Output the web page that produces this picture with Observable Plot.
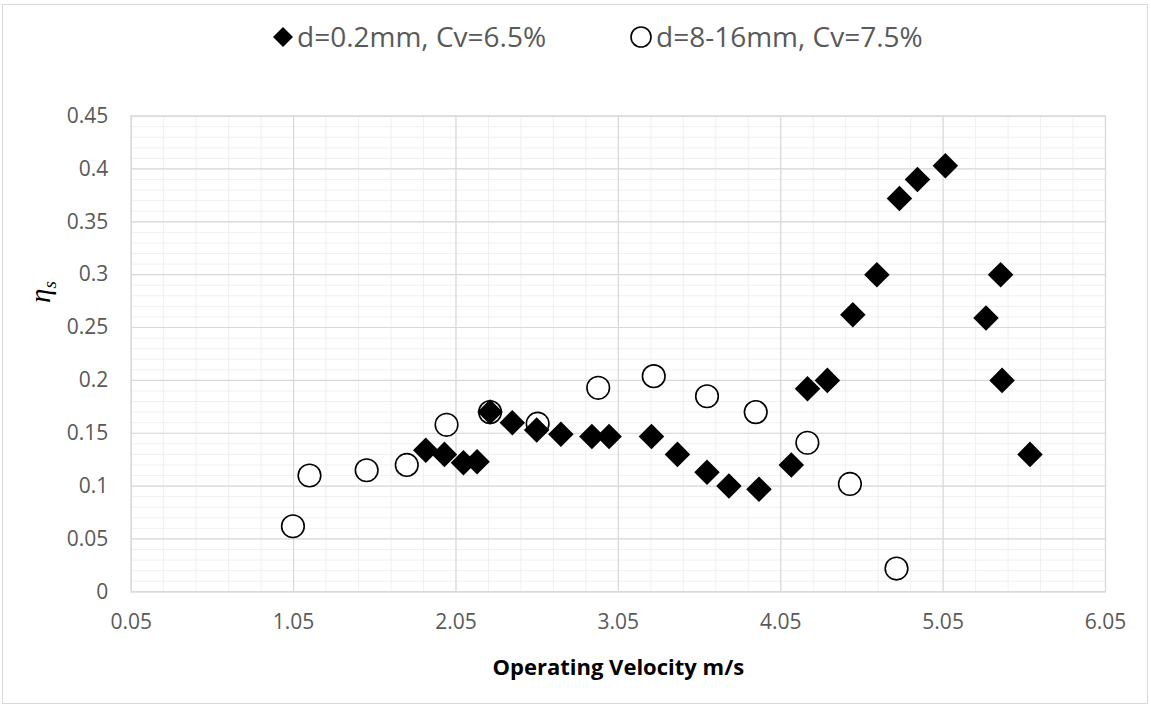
<!DOCTYPE html>
<html>
<head>
<meta charset="utf-8">
<script src="https://cdn.jsdelivr.net/npm/d3@7"></script>
<script src="https://cdn.jsdelivr.net/npm/@observablehq/plot@0.6"></script>
<style>
  html, body { margin: 0; padding: 0; background: #fff; }
  #wrap { position: relative; width: 1151px; height: 709px; overflow: hidden; }
  #border { position: absolute; left: 2px; top: 4px; width: 1146px; height: 700px; border: 1px solid #d9d9d9; box-sizing: border-box; }
  #chart { position: absolute; left: 0; top: 0; }
</style>
</head>
<body>
<div id="wrap"><div id="border"></div><div id="chart"></div></div>
<script>
// Series 1: d=0.2mm, Cv=6.5% (filled diamonds)
const fineLabel = "d=0.2mm, Cv=6.5%";
const fineX = [1.864, 1.979, 2.096, 2.180, 2.260, 2.397, 2.547, 2.696, 2.887, 2.993, 3.254, 3.414, 3.596, 3.731, 3.916, 4.115, 4.215, 4.337, 4.494, 4.642, 4.781, 4.892, 5.064, 5.314, 5.404, 5.413, 5.585];
const fineY = [0.134, 0.130, 0.122, 0.123, 0.170, 0.160, 0.153, 0.149, 0.147, 0.147, 0.147, 0.130, 0.113, 0.100, 0.097, 0.120, 0.192, 0.200, 0.262, 0.300, 0.372, 0.390, 0.403, 0.259, 0.300, 0.200, 0.130];

// Series 2: d=8-16mm, Cv=7.5% (open circles)
const coarseLabel = "d=8-16mm, Cv=7.5%";
const coarseX = [1.046, 1.148, 1.500, 1.747, 1.992, 2.260, 2.553, 2.926, 3.268, 3.596, 3.896, 4.214, 4.476, 4.763];
const coarseY = [0.062, 0.110, 0.115, 0.120, 0.158, 0.170, 0.159, 0.193, 0.204, 0.185, 0.170, 0.141, 0.102, 0.022];

// Axis ticks
const xTicks = [0.05, 1.05, 2.05, 3.05, 4.05, 5.05, 6.05];
const yTicks = [0, 0.05, 0.1, 0.15, 0.2, 0.25, 0.3, 0.35, 0.4, 0.45];
const xMinor = d3.range(0, 31).map(i => 0.05 + i * 0.2);
const yMinor = d3.range(0, 46).map(i => i * 0.01);

const xTitle = "Operating Velocity m/s";

const fine = fineX.map((x, i) => ({x, y: fineY[i]}));
const coarse = coarseX.map((x, i) => ({x, y: coarseY[i]}));

const W = 1151, H = 709;
const mL = 130.7, mR = 46, mT = 115.6, mB = 117.7;
const tickColor = "#595959";

const svg = Plot.plot({
  width: W,
  height: H,
  marginLeft: mL,
  marginRight: mR,
  marginTop: mT,
  marginBottom: mB,
  style: {fontFamily: "'Open Sans', sans-serif", fontSize: "21px", background: "transparent", overflow: "visible"},
  x: {domain: [0.05, 6.05]},
  y: {domain: [0, 0.45]},
  marks: [
    Plot.ruleX(xMinor, {stroke: "#f0f0f0", strokeWidth: 1}),
    Plot.ruleY(yMinor, {stroke: "#f0f0f0", strokeWidth: 1}),
    Plot.ruleX(xTicks, {stroke: "#d9d9d9", strokeWidth: 1.2}),
    Plot.ruleY(yTicks, {stroke: "#d9d9d9", strokeWidth: 1.2}),
    Plot.frame({stroke: "#d9d9d9", strokeWidth: 1.2}),
    Plot.axisX(xTicks, {tickSize: 0, tickPadding: 22, tickFormat: d => d.toFixed(2), fontSize: 21, fill: tickColor, label: null}),
    Plot.axisY(yTicks, {tickSize: 0, tickPadding: 23, tickFormat: d => String(+d.toFixed(2)), fontSize: 21, fill: tickColor, label: null}),
    Plot.dot(coarse, {x: "x", y: "y", r: 11.3, symbol: "circle", fill: "white", stroke: "black", strokeWidth: 1.6}),
    Plot.dot(fine, {x: "x", y: "y", r: 11.5, symbol: "diamond2", fill: "black", stroke: "none"}),
    Plot.text([xTitle], {frameAnchor: "bottom", dy: 83, fontSize: 22, fontWeight: "bold", fill: "#000"})
  ]
});

const s = d3.select(svg);
// Y axis title: eta subscript s
const yt = s.append("text")
  .attr("transform", "translate(50,292) rotate(-90)")
  .attr("text-anchor", "middle")
  .attr("font-family", "'Liberation Serif', 'DejaVu Serif', serif")
  .attr("font-style", "italic")
  .attr("font-size", 29)
  .attr("fill", "#000");
yt.append("tspan").text("η");
yt.append("tspan").attr("font-size", 19).attr("dy", 6).text("s");

// Legend
const ly = 37;
const lg = s.append("g").attr("font-family", "'Open Sans', sans-serif").attr("font-size", 28).attr("fill", tickColor).attr("text-anchor", "start");
lg.append("path").attr("d", `M283,${ly-10} L293,${ly} L283,${ly+10} L273,${ly} Z`).attr("fill", "black");
lg.append("text").attr("x", 297).attr("y", ly).attr("dy", "0.36em").attr("text-anchor", "start").text(fineLabel);
lg.append("circle").attr("cx", 641).attr("cy", ly).attr("r", 10).attr("fill", "white").attr("stroke", "black").attr("stroke-width", 1.6);
lg.append("text").attr("x", 656).attr("y", ly).attr("dy", "0.36em").attr("text-anchor", "start").text(coarseLabel);

document.getElementById("chart").appendChild(svg);
</script>
</body>
</html>
